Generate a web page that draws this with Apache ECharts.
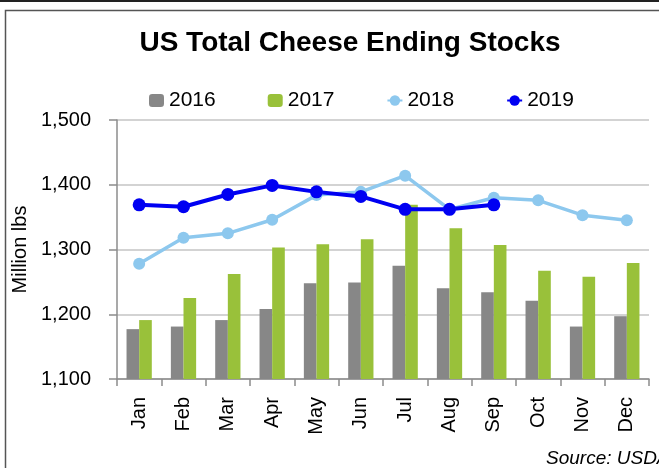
<!DOCTYPE html>
<html>
<head>
<meta charset="utf-8">
<script src="https://cdn.jsdelivr.net/npm/echarts@6/dist/echarts.min.js"></script>
<style>
html,body{margin:0;padding:0;background:#fff;}
#chart{width:659px;height:468px;}
</style>
</head>
<body>
<div id="chart"></div>
<script>
const months = ['Jan','Feb','Mar','Apr','May','Jun','Jul','Aug','Sep','Oct','Nov','Dec'];
const s2016 = [1177,1181,1191,1208,1248,1249,1275,1240,1234,1221,1181,1197];
const s2017 = [1191,1225,1262,1303,1308,1316,1369,1333,1307,1267,1258,1279];
const s2018 = [1278,1318,1325,1346,1384,1389,1414,1362,1380,1376,1353,1345];
const s2019 = [1369,1366,1385,1399,1389,1382,1362,1362,1369];
const yTicks = {min:1100, max:1500, interval:100};

const FONT = '"Liberation Sans", Arial, sans-serif';
const chart = echarts.init(document.getElementById('chart'), null, {renderer:'canvas'});
chart.setOption({
  backgroundColor:'#ffffff',
  animation:false,
  title:{
    text:'US Total Cheese Ending Stocks',
    left:345, top:24, textAlign:'center',
    textStyle:{fontFamily:FONT, fontSize:28, fontWeight:'bold', color:'#000'}
  },
  legend:{
    left:149, top:90, padding:0,
    itemWidth:15, itemHeight:13, itemGap:52,
    textStyle:{fontFamily:FONT, fontSize:21, color:'#000'},
    data:['2016','2017','2018','2019']
  },
  grid:{left:117, right:10, top:120, bottom:89, containLabel:false},
  xAxis:{
    type:'category', data:months,
    axisLine:{lineStyle:{color:'#8c8c8c', width:1.5}},
    axisTick:{show:true, length:7, lineStyle:{color:'#8c8c8c', width:1.5}},
    axisLabel:{rotate:90, margin:18, fontFamily:FONT, fontSize:20, color:'#000', interval:0}
  },
  yAxis:{
    type:'value', min:yTicks.min, max:yTicks.max, interval:yTicks.interval,
    name:'Million lbs', nameLocation:'middle', nameGap:82, nameRotate:90,
    nameTextStyle:{fontFamily:FONT, fontSize:20, color:'#000'},
    axisLine:{show:true, lineStyle:{color:'#8c8c8c', width:1.5}},
    axisTick:{show:true, length:8, lineStyle:{color:'#8c8c8c', width:1.5}},
    axisLabel:{margin:26, fontFamily:FONT, fontSize:20, color:'#000',
      formatter:v=>v.toLocaleString('en-US')},
    splitLine:{show:true, lineStyle:{color:'#c4c4c4', width:1.5}}
  },
  series:[
    {name:'2016', type:'bar', data:s2016, barGap:'0%', barCategoryGap:'43%',
     itemStyle:{color:'#878787'}},
    {name:'2017', type:'bar', data:s2017, barGap:'0%', barCategoryGap:'43%',
     itemStyle:{color:'#99c13a'}},
    {name:'2018', type:'line', data:s2018, symbol:'circle', symbolSize:12,
     lineStyle:{color:'#8dc8ee', width:3.5}, itemStyle:{color:'#8dc8ee'}},
    {name:'2019', type:'line', data:s2019, symbol:'circle', symbolSize:13,
     lineStyle:{color:'#0000f2', width:4}, itemStyle:{color:'#0000f2'}}
  ],
  graphic:[
    {type:'line', shape:{x1:0,y1:1,x2:659,y2:1}, style:{stroke:'#222', lineWidth:2}},
    {type:'rect', shape:{x:5.5,y:10.5,width:700,height:500}, style:{fill:null, stroke:'#555', lineWidth:1.5}, z:-1},
    {type:'text', left:546, top:449, style:{text:'Source: USDA', font:'italic 19px "Liberation Sans", Arial, sans-serif', fill:'#000'}}
  ]
});
</script>
</body>
</html>
